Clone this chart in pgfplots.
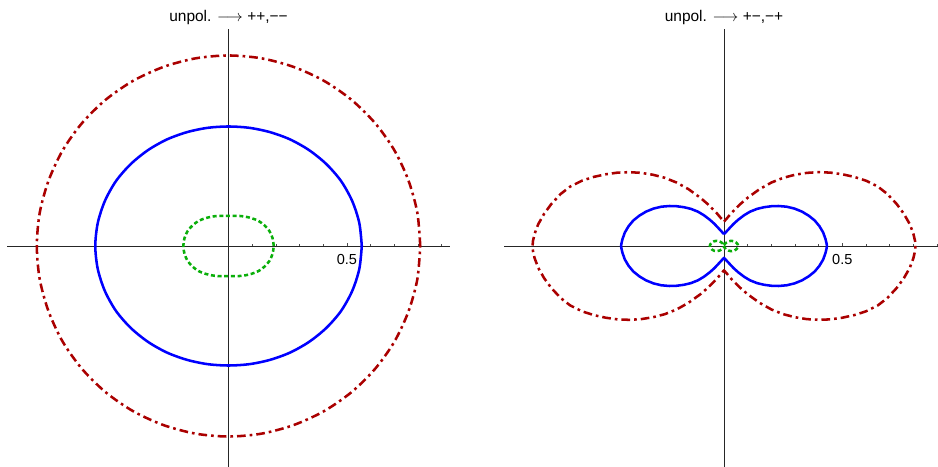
\documentclass[border=0pt]{standalone}
\usepackage{fontspec}
\setmainfont{Liberation Sans}
\usepackage{pgfplots}
\pgfplotsset{compat=1.18}
\definecolor{dred}{RGB}{170,0,0}
\definecolor{mblue}{RGB}{0,0,255}
\definecolor{mgreen}{RGB}{10,175,10}

\pgfplotsset{
  panel/.style={
    scale only axis, x=177.5pt, y=177.5pt,
    anchor=origin, clip=false,
    axis lines=middle,
    every inner x axis line/.append style={-},
    every inner y axis line/.append style={-},
    axis line style={-, black!85, line width=0.55pt},
    ymin=-0.934, ymax=0.917,
    ytick=\empty,
    xtick={0.5}, xticklabels={0.5},
    minor xtick={0.1,0.2,0.3,0.4,0.6,0.7,0.8,0.9},
    tick align=inside,
    major tick length=2.6pt, minor tick length=1.5pt,
    tick style={black!70, line width=0.5pt},
    xticklabel style={font=\fontsize{10.9}{13}\selectfont, anchor=north, yshift=-3pt},
  },
  redc/.style={color=dred, line width=1.9pt, line join=round, dash pattern=on 6.5pt off 3pt on 2pt off 3pt},
  bluec/.style={color=mblue, line width=1.9pt, line join=round},
  greenc/.style={color=mgreen, line width=1.9pt, line join=round, dash pattern=on 3pt off 2pt},
}

\begin{document}
\begin{tikzpicture}
\useasboundingbox (0,0) rectangle (703.5pt,350.25pt);

% left panel: polar data (angle in degrees, radius)
\begin{axis}[panel, at={(171.4pt,165.75pt)}, xmin=-0.936, xmax=0.934]
\addplot[redc, smooth, data cs=polar] coordinates {
(0,0.810) (10,0.810) (20,0.809) (30,0.809) (40,0.808) (50,0.807) (60,0.806) (70,0.805) (80,0.805) (90,0.805)
(100,0.805) (110,0.805) (120,0.806) (130,0.807) (140,0.808) (150,0.809) (160,0.809) (170,0.810) (180,0.810)
(190,0.810) (200,0.809) (210,0.809) (220,0.808) (230,0.807) (240,0.806) (250,0.805) (260,0.805) (270,0.805)
(280,0.805) (290,0.805) (300,0.806) (310,0.807) (320,0.808) (330,0.809) (340,0.809) (350,0.810) (360,0.810)
};
\addplot[bluec, smooth, data cs=polar] coordinates {
(0,0.563) (10,0.561) (20,0.556) (30,0.549) (40,0.539) (50,0.529) (60,0.520) (70,0.512) (80,0.507) (90,0.505)
(100,0.507) (110,0.512) (120,0.520) (130,0.529) (140,0.539) (150,0.549) (160,0.556) (170,0.561) (180,0.563)
(190,0.561) (200,0.556) (210,0.549) (220,0.539) (230,0.529) (240,0.520) (250,0.512) (260,0.507) (270,0.505)
(280,0.507) (290,0.512) (300,0.520) (310,0.529) (320,0.539) (330,0.549) (340,0.556) (350,0.561) (360,0.563)
};
\addplot[greenc, smooth, data cs=polar] coordinates {
(0,0.191) (10,0.189) (20,0.184) (30,0.175) (40,0.165) (50,0.153) (60,0.143) (70,0.135) (80,0.129) (90,0.127)
(100,0.129) (110,0.135) (120,0.143) (130,0.153) (140,0.165) (150,0.175) (160,0.184) (170,0.189) (180,0.191)
(190,0.189) (200,0.184) (210,0.175) (220,0.165) (230,0.153) (240,0.143) (250,0.135) (260,0.129) (270,0.127)
(280,0.129) (290,0.135) (300,0.143) (310,0.153) (320,0.165) (330,0.175) (340,0.184) (350,0.189) (360,0.191)
};
\node[anchor=base, font=\fontsize{11.6}{14}\selectfont] at (axis cs:0,0.947) {unpol. $\longrightarrow$ ++,−−};
\end{axis}

% right panel: cartesian points read off the lobes
\begin{axis}[panel, at={(543pt,165.75pt)}, xmin=-0.928, xmax=0.905]
\addplot[redc] coordinates {
(0.000,0.103) (0.015,0.120) (0.030,0.138) (0.050,0.158) (0.070,0.178) (0.100,0.204) (0.150,0.240) (0.200,0.268)
(0.250,0.288) (0.300,0.301) (0.350,0.309) (0.400,0.312) (0.450,0.310) (0.500,0.303) (0.550,0.292) (0.600,0.276)
(0.650,0.251) (0.690,0.220) (0.730,0.177) (0.760,0.136) (0.785,0.092) (0.800,0.052) (0.807,0.022) (0.809,0.000)
(0.807,-0.022) (0.800,-0.052) (0.785,-0.092) (0.760,-0.136) (0.730,-0.177) (0.690,-0.220) (0.650,-0.251)
(0.600,-0.276) (0.550,-0.292) (0.500,-0.303) (0.450,-0.310) (0.400,-0.312) (0.350,-0.309) (0.300,-0.301)
(0.250,-0.288) (0.200,-0.268) (0.150,-0.240) (0.100,-0.204) (0.070,-0.178) (0.050,-0.158) (0.030,-0.138)
(0.015,-0.120) (0.000,-0.103)
(-0.015,-0.120) (-0.030,-0.138) (-0.050,-0.158) (-0.070,-0.178) (-0.100,-0.204) (-0.150,-0.240) (-0.200,-0.268)
(-0.250,-0.288) (-0.300,-0.301) (-0.350,-0.309) (-0.400,-0.312) (-0.450,-0.310) (-0.500,-0.303) (-0.550,-0.292)
(-0.600,-0.276) (-0.650,-0.251) (-0.690,-0.220) (-0.730,-0.177) (-0.760,-0.136) (-0.785,-0.092) (-0.800,-0.052)
(-0.807,-0.022) (-0.809,0.000)
(-0.807,0.022) (-0.800,0.052) (-0.785,0.092) (-0.760,0.136) (-0.730,0.177) (-0.690,0.220) (-0.650,0.251)
(-0.600,0.276) (-0.550,0.292) (-0.500,0.303) (-0.450,0.310) (-0.400,0.312) (-0.350,0.309) (-0.300,0.301)
(-0.250,0.288) (-0.200,0.268) (-0.150,0.240) (-0.100,0.204) (-0.070,0.178) (-0.050,0.158) (-0.030,0.138)
(-0.015,0.120) (0.000,0.103)
};
\addplot[bluec] coordinates {
(0.000,0.050) (0.012,0.063) (0.025,0.077) (0.040,0.093) (0.060,0.111) (0.085,0.130) (0.110,0.145) (0.140,0.157)
(0.170,0.164) (0.200,0.168) (0.230,0.169) (0.265,0.166) (0.298,0.158) (0.330,0.145) (0.358,0.128) (0.383,0.108)
(0.403,0.084) (0.419,0.057) (0.429,0.029) (0.433,0.012) (0.435,0.000)
(0.433,-0.012) (0.429,-0.029) (0.419,-0.057) (0.403,-0.084) (0.383,-0.108) (0.358,-0.128) (0.330,-0.145)
(0.298,-0.158) (0.265,-0.166) (0.230,-0.169) (0.200,-0.168) (0.170,-0.164) (0.140,-0.157) (0.110,-0.145)
(0.085,-0.130) (0.060,-0.111) (0.040,-0.093) (0.025,-0.077) (0.012,-0.063) (0.000,-0.050)
(-0.012,-0.063) (-0.025,-0.077) (-0.040,-0.093) (-0.060,-0.111) (-0.085,-0.130) (-0.110,-0.145) (-0.140,-0.157)
(-0.170,-0.164) (-0.200,-0.168) (-0.230,-0.169) (-0.265,-0.166) (-0.298,-0.158) (-0.330,-0.145) (-0.358,-0.128)
(-0.383,-0.108) (-0.403,-0.084) (-0.419,-0.057) (-0.429,-0.029) (-0.433,-0.012) (-0.435,0.000)
(-0.433,0.012) (-0.429,0.029) (-0.419,0.057) (-0.403,0.084) (-0.383,0.108) (-0.358,0.128) (-0.330,0.145)
(-0.298,0.158) (-0.265,0.166) (-0.230,0.169) (-0.200,0.168) (-0.170,0.164) (-0.140,0.157) (-0.110,0.145)
(-0.085,0.130) (-0.060,0.111) (-0.040,0.093) (-0.025,0.077) (-0.012,0.063) (0.000,0.050)
};
\addplot[greenc] coordinates {
(0.000,0.004) (0.008,0.013) (0.018,0.019) (0.030,0.022) (0.042,0.020) (0.052,0.014) (0.058,0.007) (0.060,0.000)
(0.058,-0.007) (0.052,-0.014) (0.042,-0.020) (0.030,-0.022) (0.018,-0.019) (0.008,-0.013) (0.000,-0.004)
(-0.008,-0.013) (-0.018,-0.019) (-0.030,-0.022) (-0.042,-0.020) (-0.052,-0.014) (-0.058,-0.007) (-0.060,0.000)
(-0.058,0.007) (-0.052,0.014) (-0.042,0.020) (-0.030,0.022) (-0.018,0.019) (-0.008,0.013) (0.000,0.004)
};
\node[anchor=base, font=\fontsize{11.6}{14}\selectfont] at (axis cs:0,0.947) {unpol. $\longrightarrow$ +−,−+};
\end{axis}
\end{tikzpicture}
\end{document}
